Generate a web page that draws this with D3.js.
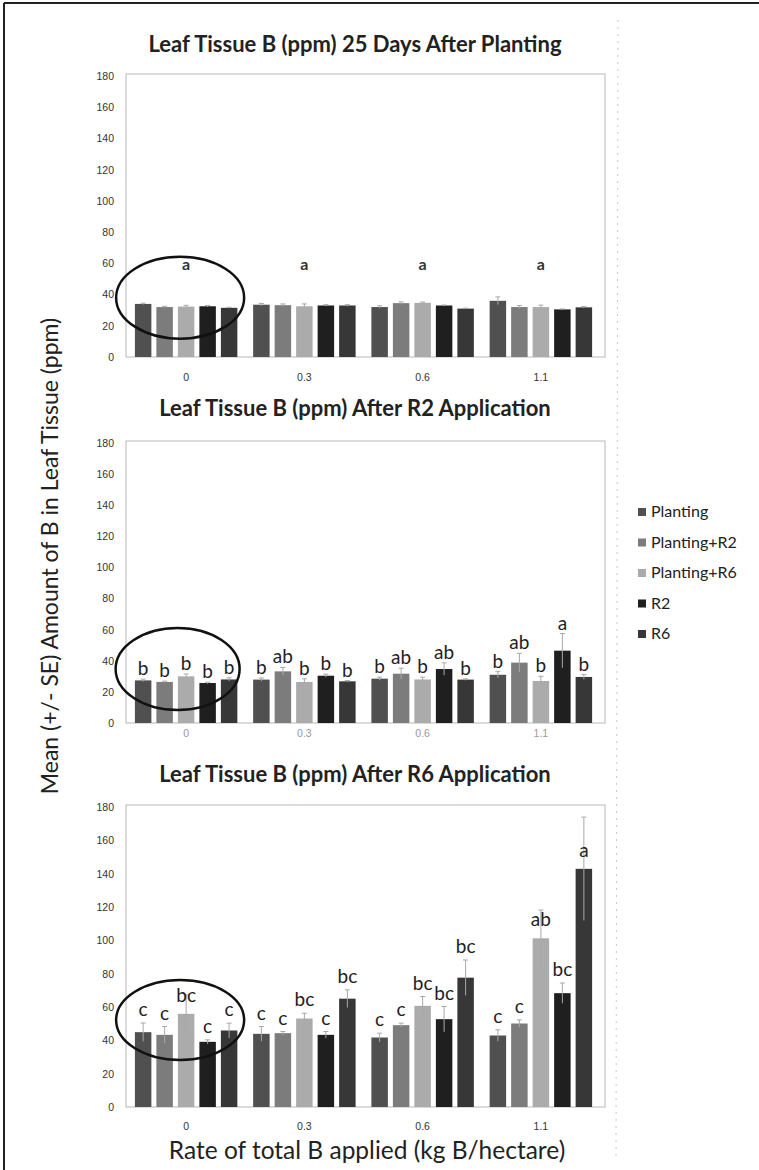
<!DOCTYPE html>
<html>
<head>
<meta charset="utf-8">
<script src="https://cdn.jsdelivr.net/npm/d3@7"></script>
<style>
  html, body { margin: 0; padding: 0; background: #fff; }
  svg { display: block; }
</style>
</head>
<body>
<svg id="chart" width="759" height="1170"></svg>
<script>
// ---------------- DATA ----------------
const rates = ["0", "0.3", "0.6", "1.1"];
const series = ["Planting", "Planting+R2", "Planting+R6", "R2", "R6"];
const yTicks = [0, 20, 40, 60, 80, 100, 120, 140, 160, 180];

// Panel 1: Leaf Tissue B (ppm) 25 Days After Planting
const p1Mean = [
  [34.0, 32.0, 32.3, 32.5, 31.5],
  [33.5, 33.2, 32.5, 33.0, 33.0],
  [32.0, 34.5, 34.7, 33.0, 31.0],
  [36.0, 32.0, 32.0, 30.5, 31.8]
];
const p1SE = [
  [0.5, 0.5, 0.8, 0.5, 0.3],
  [0.8, 0.8, 1.5, 0.5, 0.5],
  [0.8, 0.8, 0.5, 0.3, 0.3],
  [2.5, 1.0, 1.2, 0.3, 0.5]
];
const p1Letters = ["a", "a", "a", "a"];

// Panel 2: After R2 Application
const p2Mean = [
  [27.4, 26.4, 30.0, 25.7, 28.0],
  [27.9, 33.2, 26.4, 30.4, 26.8],
  [28.5, 31.7, 28.0, 34.7, 27.9],
  [31.0, 38.8, 27.0, 46.5, 29.6]
];
const p2SE = [
  [0.8, 0.5, 1.5, 0.5, 1.0],
  [1.0, 2.5, 2.0, 1.0, 0.5],
  [1.0, 3.5, 1.5, 4.0, 0.5],
  [2.0, 6.0, 3.0, 11.0, 1.5]
];
const p2Letters = [
  ["b", "b", "b", "b", "b"],
  ["b", "ab", "b", "b", "b"],
  ["b", "ab", "b", "ab", "b"],
  ["b", "ab", "b", "a", "b"]
];

// Panel 3: After R6 Application
const p3Mean = [
  [44.9, 43.3, 55.9, 39.1, 45.9],
  [43.9, 44.3, 53.1, 43.3, 65.0],
  [41.7, 49.1, 60.7, 52.7, 77.6],
  [42.9, 50.1, 101.2, 68.3, 142.9]
];
const p3SE = [
  [5.5, 5.0, 11.4, 1.2, 4.4],
  [4.4, 1.0, 3.2, 2.0, 5.3],
  [2.6, 1.2, 5.6, 7.6, 10.6],
  [3.4, 2.2, 17.0, 6.1, 31.0]
];
const p3Letters = [
  ["c", "c", "bc", "c", "c"],
  ["c", "c", "bc", "c", "bc"],
  ["c", "c", "bc", "bc", "bc"],
  ["c", "c", "ab", "bc", "a"]
];

// ---------------- STYLE / LAYOUT ----------------
const colors = ["#505050", "#7c7c7c", "#ababab", "#1f1f1f", "#373737"];
const FONT = "Lato, 'Open Sans', sans-serif";

const panels = [
  { title: "Leaf Tissue B (ppm) 25 Days After Planting", mean: p1Mean, se: p1SE,
    groupLetters: p1Letters, y0: 357, y180: 76, titleY: 52, tickPad: 17, tickColor: "#333",
    ell: { dx: -6, val: 38, rx: 64, ry: 41 } },
  { title: "Leaf Tissue B (ppm) After R2 Application", mean: p2Mean, se: p2SE,
    letters: p2Letters, y0: 723, y180: 443, titleY: 416, tickPad: 7, tickColor: "#999",
    ell: { dx: -8.5, val: 34.7, rx: 62, ry: 41 } },
  { title: "Leaf Tissue B (ppm) After R6 Application", mean: p3Mean, se: p3SE,
    letters: p3Letters, y0: 1107, y180: 807, titleY: 782, tickPad: 16, tickColor: "#333",
    ell: { dx: -6, val: 52.2, rx: 64, ry: 40 } }
];

const plotLeft = 126, plotRight = 605;

const svg = d3.select("#chart");

// outer scan border (top and left)
svg.append("line").attr("x1", 4).attr("y1", 3).attr("x2", 759).attr("y2", 3)
  .attr("stroke", "#222").attr("stroke-width", 2);
svg.append("line").attr("x1", 4).attr("y1", 3).attr("x2", 4).attr("y2", 1170)
  .attr("stroke", "#222").attr("stroke-width", 2);
// faint dotted scan line on the right
svg.append("line").attr("x1", 618).attr("y1", 20).attr("x2", 616).attr("y2", 1160)
  .attr("stroke", "#c8c8c8").attr("stroke-width", 1).attr("stroke-dasharray", "2,5");

const x0 = d3.scaleBand().domain(rates).range([127, 600]).padding(0);
const x1 = d3.scaleBand().domain(series).range([0, x0.bandwidth()])
  .paddingInner(0.233).paddingOuter(0.367);

panels.forEach((p, pi) => {
  const y = d3.scaleLinear().domain([0, 180]).range([p.y0, p.y180]);
  const g = svg.append("g");

  // title
  g.append("text").attr("x", 355).attr("y", p.titleY)
    .attr("text-anchor", "middle").attr("font-family", FONT)
    .attr("font-weight", "bold").attr("font-size", 22).attr("fill", "#222")
    .text(p.title);

  // plot frame
  g.append("rect").attr("x", plotLeft).attr("y", p.y180 - 2)
    .attr("width", plotRight - plotLeft).attr("height", p.y0 - p.y180 + 2)
    .attr("fill", "none").attr("stroke", "#b8b8b8").attr("stroke-width", 1);

  // y axis
  const ya = g.append("g").attr("transform", `translate(${plotLeft},0)`)
    .call(d3.axisLeft(y).tickValues(yTicks).tickSize(0).tickPadding(12));
  ya.select(".domain").remove();
  ya.selectAll("text").attr("font-family", "'Liberation Sans', sans-serif")
    .attr("font-size", 10.5).attr("fill", "#333");

  // x axis
  const xa = g.append("g").attr("transform", `translate(0,${p.y0})`)
    .call(d3.axisBottom(x0).tickSize(0).tickPadding(p.tickPad));
  xa.select(".domain").remove();
  xa.selectAll("text").attr("font-family", "'Liberation Sans', sans-serif")
    .attr("font-size", 10.5).attr("fill", p.tickColor);

  // bars
  rates.forEach((r, gi) => {
    const gg = g.append("g").attr("transform", `translate(${x0(r)},0)`);
    series.forEach((s, si) => {
      const v = p.mean[gi][si], e = p.se[gi][si];
      const bx = x1(s), bw = x1.bandwidth();
      gg.append("rect").attr("x", bx).attr("y", y(v))
        .attr("width", bw).attr("height", y(0) - y(v))
        .attr("fill", colors[si]);
      // error bar
      const cx = bx + bw / 2;
      gg.append("line").attr("x1", cx).attr("x2", cx)
        .attr("y1", y(v - e)).attr("y2", y(v + e))
        .attr("stroke", "#a8a8a8").attr("stroke-width", 1);
      gg.append("line").attr("x1", cx - 2.5).attr("x2", cx + 2.5)
        .attr("y1", y(v + e)).attr("y2", y(v + e))
        .attr("stroke", "#a8a8a8").attr("stroke-width", 1);
      // letters
      if (p.letters) {
        const eUse = e > 11 ? Math.min(e, 3) : e;
        gg.append("text").attr("x", cx).attr("y", y(v + eUse) - (pi === 1 ? 4 : 7))
          .attr("text-anchor", "middle").attr("font-family", FONT)
          .attr("font-size", 19).attr("fill", "#222")
          .text(p.letters[gi][si]);
      }
    });
    if (p.groupLetters) {
      gg.append("text").attr("x", x0.bandwidth() / 2).attr("y", y(56))
        .attr("text-anchor", "middle").attr("font-family", FONT)
        .attr("font-weight", "bold").attr("font-size", 16).attr("fill", "#333")
        .text(p.groupLetters[gi]);
    }
  });

  // highlight ellipse around control group
  g.append("ellipse")
    .attr("cx", x0(rates[0]) + x0.bandwidth() / 2 + p.ell.dx)
    .attr("cy", y(p.ell.val))
    .attr("rx", p.ell.rx).attr("ry", p.ell.ry)
    .attr("fill", "none").attr("stroke", "#111").attr("stroke-width", 2.5);
});

// legend
const lg = svg.append("g");
series.forEach((s, i) => {
  const ly = 517 + i * 30.5;
  lg.append("rect").attr("x", 638).attr("y", ly - 9).attr("width", 8).attr("height", 8)
    .attr("fill", colors[i]);
  lg.append("text").attr("x", 651).attr("y", ly)
    .attr("font-family", FONT).attr("font-size", 16).attr("fill", "#222").text(s);
});

// axis titles
svg.append("text").attr("transform", "translate(58,556) rotate(-90)")
  .attr("text-anchor", "middle").attr("font-family", FONT)
  .attr("font-size", 23).attr("fill", "#222")
  .text("Mean (+/- SE) Amount of B in Leaf Tissue (ppm)");

svg.append("text").attr("x", 367).attr("y", 1159)
  .attr("text-anchor", "middle").attr("font-family", FONT)
  .attr("font-size", 24.5).attr("fill", "#222")
  .text("Rate of total B applied (kg B/hectare)");
</script>
</body>
</html>
